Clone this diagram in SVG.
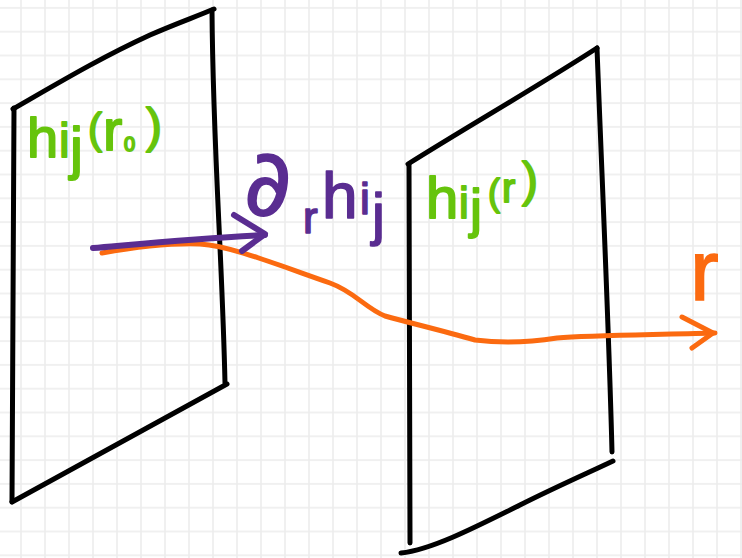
<svg xmlns="http://www.w3.org/2000/svg" width="742" height="558" viewBox="0 0 742 558">
<style>
.edge{fill:none;stroke:#000;stroke-width:5;stroke-linecap:round;stroke-linejoin:round}
.green{fill:#66c40c;stroke:#66c40c;stroke-width:1.8;stroke-linejoin:round;font-family:"Liberation Sans",Arial,sans-serif}
.purple{fill:#5a2d91;stroke:#5a2d91;stroke-width:1.6;stroke-linejoin:round;font-family:"Liberation Sans",Arial,sans-serif}
.orange-t{fill:#fb6a10;stroke:#fb6a10;stroke-width:1.5;font-family:"Liberation Sans",Arial,sans-serif}
.conn-p{fill:none;stroke:#5a2d91;stroke-width:6;stroke-linecap:round;stroke-linejoin:round}
.conn-o{fill:none;stroke:#fb6a10;stroke-width:5;stroke-linecap:round;stroke-linejoin:round}
</style>
<defs>
<pattern id="grid" patternUnits="userSpaceOnUse" x="9" y="-4" width="24" height="23.8">
<path d="M12,0 V23.8 M0,11.9 H24" stroke="#ececec" stroke-width="1.5" fill="none"/>
</pattern>
</defs>
<rect width="742" height="558" fill="#fff"/>
<rect width="742" height="558" fill="url(#grid)"/>

<g id="panel-r0">
<path class="edge" d="M13,109 C60,82 100,58 150,35 C175,24 195,17 214,9"/>
<path class="edge" d="M212,10 C213,150 222,250 225,383"/>
<path class="edge" d="M227,384 L12,502"/>
<path class="edge" d="M14,108 L12,502"/>
</g>

<g id="panel-r">
<path class="edge" d="M408,164 C470,125 540,85 597,48"/>
<path class="edge" d="M409,164 L410,543"/>
<path class="edge" d="M597,48 C602,180 609,330 612,452"/>
<path class="edge" d="M401,553 C430,550 470,530 520,505 C560,485 590,472 613,461"/>
</g>

<g id="label-hij-r0">
<text class="green"><tspan x="27" y="157" font-size="56">h</tspan><tspan x="59" y="157" font-size="48">i</tspan><tspan x="70" y="168" font-size="58">j</tspan><tspan x="88" y="143" font-size="42">(</tspan><tspan x="103" y="150" font-size="58">r</tspan><tspan x="124" y="151" font-size="20">0</tspan><tspan x="146" y="142" font-size="48">)</tspan></text>
</g>

<g id="label-hij-r">
<text class="green"><tspan x="426" y="218" font-size="58">h</tspan><tspan x="459" y="218" font-size="44">i</tspan><tspan x="470" y="227" font-size="54">j</tspan><tspan x="488" y="205" font-size="36">(</tspan><tspan x="502" y="202" font-size="40">r</tspan><tspan x="522" y="196" font-size="48">)</tspan></text>
</g>

<g id="label-dr-hij">
<text class="purple"><tspan x="244" y="215" font-size="92" font-family="DejaVu Sans, sans-serif">∂</tspan><tspan x="303" y="233" font-size="44">r</tspan><tspan x="322" y="218" font-size="64">h</tspan><tspan x="360" y="214" font-size="44">i</tspan><tspan x="372" y="234" font-size="58">j</tspan></text>
</g>

<g id="label-r">
<text class="orange-t" x="690" y="300" font-size="86">r</text>
</g>

<g id="connectors">
<path class="conn-o" d="M102,253 C130,248 170,243 200,244 C230,246 270,262 330,283 C355,292 365,308 385,316 C410,323 440,330 475,340 C500,343 525,343 557,338 C590,335 640,335 715,333"/>
<path class="conn-o" d="M682,317 L713,333 L692,348"/>
<path class="conn-p" d="M93,248 C150,243 200,238 265,235"/>
<path class="conn-p" d="M234,215 L265,234 L242,251"/>
</g>
</svg>
